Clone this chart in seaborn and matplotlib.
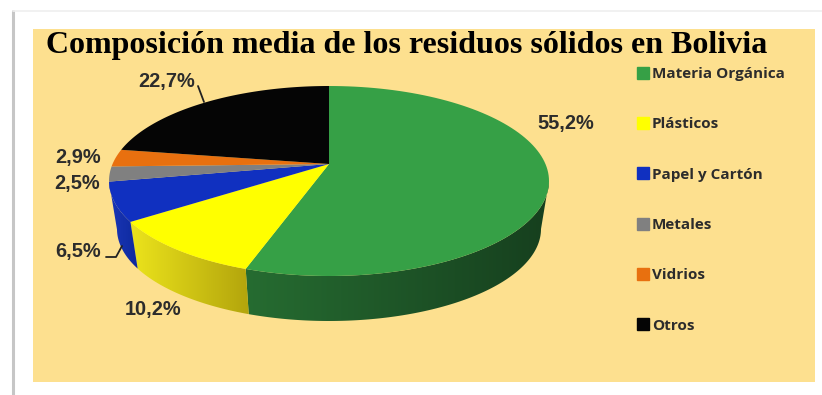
import numpy as np
import matplotlib
matplotlib.use("Agg")
import matplotlib.pyplot as plt
from matplotlib.colors import to_rgb
from matplotlib.lines import Line2D
from matplotlib.patches import Polygon, Rectangle
import seaborn as sns

# Waste composition, percent of total
categories = ["Materia Orgánica", "Plásticos", "Papel y Cartón", "Metales", "Vidrios", "Otros"]
shares = [55.2, 10.2, 6.5, 2.5, 2.9, 22.7]
palette = ["#36A046", "#FFFF00", "#1030C0", "#808080", "#E8700F", "#050505"]
title = "Composición media de los residuos sólidos en Bolivia"

# Rim shades, left end then right end of each slice's visible wall
rim_shades = {
    "Materia Orgánica": ("#266C31", "#163F1E"),
    "Plásticos": ("#ECE41C", "#B3A50C"),
    "Papel y Cartón": ("#1A36B8", "#0E2A9C"),
}

# Label anchor for each slice, in the canvas scale
label_xy = [(565.5, 123), (153, 309), (78.5, 251), (77, 184), (78.5, 157), (166.5, 81)]

sns.set_theme(style="white")
plt.rcParams["font.family"] = ["Liberation Sans", "DejaVu Sans"]

fig = plt.figure(figsize=(8.22, 3.95), dpi=100)
ax = fig.add_axes([0, 0, 1, 1])
ax.set_xlim(0, 822)
ax.set_ylim(395, 0)
ax.axis("off")

# Page frame and panel
ax.add_patch(Rectangle((33, 29), 782, 353, fc="#FDE08F", ec="none", zorder=0))
ax.plot([13, 13], [11, 395], color="#C6C6C6", lw=2.2, zorder=1)
ax.plot([13, 822], [11, 11], color="#EFEFEF", lw=1.2, zorder=1)

# Pie geometry: tilted disc with the apex pushed towards the back
APEX = (329, 164)
TOP = dict(cx=329, cy=181, rx=220, ry=95)
BOTTOM = dict(cx=329, cy=229, rx=212, ry=92)


def project(theta_deg):
    """Clockwise angle from 12 o'clock, with the foreshortening of the view."""
    t = np.asarray(theta_deg, dtype=float)
    return t - 11.0 * np.sin(np.radians(t))


def rim(ell, theta_view):
    r = np.radians(theta_view)
    return ell["cx"] + ell["rx"] * np.sin(r), ell["cy"] - ell["ry"] * np.cos(r)


edges = np.concatenate([[0], np.cumsum(shares)]) * 3.6

# Side wall, only where it faces the viewer: a horizontal gradient clipped to the strip
for name, a, b in zip(categories, edges[:-1], edges[1:]):
    lo, hi = max(project(a), 90), min(project(b), 270)
    if hi <= lo or name not in rim_shades:
        continue
    arc = np.linspace(lo, hi, 120)
    xt, yt = rim(TOP, arc)
    xb, yb = rim(BOTTOM, arc)
    outline = np.column_stack([np.r_[xt, xb[::-1]], np.r_[yt, yb[::-1]]])
    left, right = (np.array(to_rgb(c)) for c in rim_shades[name])
    ramp = np.linspace(0, 1, 256)[None, :, None]
    image = left[None, None, :] * (1 - ramp) + right[None, None, :] * ramp
    x0, x1 = outline[:, 0].min(), outline[:, 0].max()
    y0, y1 = outline[:, 1].min(), outline[:, 1].max()
    im = ax.imshow(image, extent=(x0, x1, y1, y0), aspect="auto", zorder=2, interpolation="bilinear")
    im.set_clip_path(Polygon(outline, transform=ax.transData))
ax.set_xlim(0, 822)
ax.set_ylim(395, 0)

# Top face
for name, color, a, b in zip(categories, palette, edges[:-1], edges[1:]):
    arc = np.linspace(project(a), project(b), 120)
    xs, ys = rim(TOP, arc)
    ax.fill(np.r_[APEX[0], xs], np.r_[APEX[1], ys], color=color, lw=0, zorder=3)

# Percent labels
for share, (lx, ly) in zip(shares, label_xy):
    ax.text(lx, ly, f"{share:.1f}%".replace(".", ","), ha="center", va="center",
            fontsize=14.4, fontweight="bold", color="#2C2C2C", zorder=5)

# Leader lines for the 22,7% and 6,5% labels
ax.plot([198, 204], [86, 102], color="#222222", lw=1.3, zorder=5)
ax.plot([106, 116, 122], [257, 257, 246], color="#222222", lw=1.3, zorder=5)

# Title
ax.text(46, 45, title, ha="left", va="center", fontsize=23.0, fontweight="bold",
        family="Liberation Serif", color="black", zorder=6)

# Legend
handles = [Line2D([], [], ls="none", marker="s", ms=8, mfc=c, mec=c) for c in palette]
ax.legend(handles, categories, loc="upper left", bbox_to_anchor=(627.5, 67),
          bbox_transform=ax.transData, frameon=False,
          prop=dict(family="Open Sans", weight="bold", size=11),
          labelspacing=2.38, handletextpad=-0.42, labelcolor="#2C2C2C",
          borderpad=0, borderaxespad=0)

fig.savefig("out.png", dpi=100)
